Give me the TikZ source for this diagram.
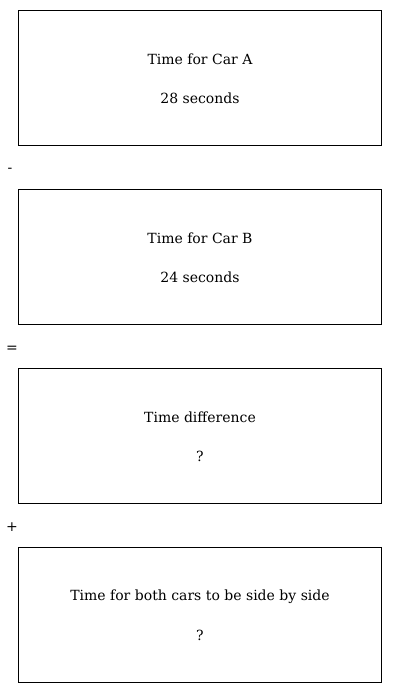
\documentclass[tikz,border=0pt]{standalone}
\usepackage{fontspec}
\setmainfont{DejaVu Serif}
\begin{document}
\begin{tikzpicture}[x=1pt,y=-1pt,
  box/.style={draw,line width=0.8pt,minimum width=363pt,minimum height=135pt,anchor=north west,inner sep=0pt},
  txt/.style={font=\fontsize{14}{16}\selectfont},
  op/.style={font=\fontsize{14}{16}\selectfont}]
\useasboundingbox (0,0) rectangle (400,693);
\node[box] (b1) at (18,10) {};
\node[box] (b2) at (18,189) {};
\node[box] (b3) at (18,368) {};
\node[box] (b4) at (18,547) {};
\node[txt] (t1a) at (200,59.5) {Time for Car A};
\node[txt] (t1b) at (200,98.5) {28 seconds};
\node[txt] (t2a) at (200,238.5) {Time for Car B};
\node[txt] (t2b) at (200,277.5) {24 seconds};
\node[txt] (t3a) at (200,417.5) {Time difference};
\node[txt] (t3b) at (200,456.5) {?};
\node[txt] (t4a) at (200,596.5) {Time for both cars to be side by side};
\node[txt] (t4b) at (200,635.5) {?};
\node[op] (o1) at (10,170.5) {-};
\node[op] (o2) at (12,349.5) {=};
\node[op] (o3) at (12,527.5) {+};
\end{tikzpicture}
\end{document}
